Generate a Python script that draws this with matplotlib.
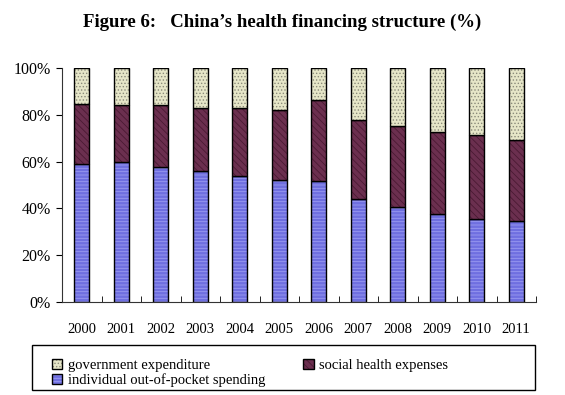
import matplotlib
matplotlib.use('Agg')
import matplotlib.pyplot as plt
from matplotlib.patches import Rectangle
import numpy as np

plt.rcParams["font.family"] = "Liberation Serif"
plt.rcParams["hatch.linewidth"] = 0.6

years = ['2000', '2001', '2002', '2003', '2004', '2005',
         '2006', '2007', '2008', '2009', '2010', '2011']
# 个人卫生支出、社会卫生支出、政府卫生支出 (%)
individual = [58.98, 59.97, 57.72, 55.87, 53.64, 52.21,
              51.8, 44.05, 40.42, 37.46, 35.29, 34.77]
social = [25.55, 24.10, 26.59, 27.16, 29.32, 29.87,
          34.5, 33.64, 34.85, 35.08, 36.02, 34.57]
government = [15.47, 15.93, 15.69, 16.97, 17.04, 17.92,
              13.7, 22.31, 24.73, 27.46, 28.69, 30.66]
y_ticks = [0, 20, 40, 60, 80, 100]

fig = plt.figure(figsize=(5.65, 3.95), dpi=100)
ax = fig.add_axes([62 / 565, 1 - 302 / 395, 474 / 565, 234 / 395])

x = np.arange(len(years))
w = 0.38
ind = np.array(individual)
soc = np.array(social)
gov = np.array(government)

b1 = ax.bar(x, ind, w, color='#6f6fe0', edgecolor='black', linewidth=1.0,
            hatch='-----', label='individual out-of-pocket spending')
b2 = ax.bar(x, soc, w, bottom=ind, color='#6b2f4f', edgecolor='black',
            linewidth=1.0, hatch='\\\\\\\\\\', label='social health expenses')
b3 = ax.bar(x, gov, w, bottom=ind + soc, color='#e6e6c8', edgecolor='black',
            linewidth=1.0, hatch='.....', label='government expenditure')
# 阴影线颜色
for bar in b1:
    bar._hatch_color = matplotlib.colors.to_rgba('#9a9af0')
for bar in b2:
    bar._hatch_color = matplotlib.colors.to_rgba('#4a1a33')
for bar in b3:
    bar._hatch_color = matplotlib.colors.to_rgba('#8a8a7a')

ax.set_xlim(-0.5, len(years) - 0.5)
ax.set_ylim(0, 100)
ax.set_yticks(y_ticks)
ax.set_yticklabels([f"{t}%" for t in y_ticks], fontsize=11.5)
ax.set_xticks(x)
ax.set_xticklabels(years, fontsize=10.5)
ax.set_xticks(np.arange(len(years) + 1) - 0.5, minor=True)
ax.tick_params(axis='x', which='major', length=0, pad=15)
ax.tick_params(axis='x', which='minor', length=4, direction='in')
ax.tick_params(axis='y', which='major', length=4, direction='out', pad=4)

for s in ['top', 'right']:
    ax.spines[s].set_visible(False)
ax.spines['left'].set_color('#333333')
ax.spines['bottom'].set_color('#333333')

fig.text(0.5, 1 - 22 / 395, "Figure 6:   China\u2019s health financing structure (%)",
         ha='center', va='center', fontsize=13.5, fontweight='bold')

# 图例外框
fig.add_artist(Rectangle((32 / 565, 1 - 390 / 395), 503 / 565, 45 / 395,
                         transform=fig.transFigure, fill=False,
                         edgecolor='black', linewidth=1.0))

leg = fig.legend(handles=[b3, b1, b2], ncol=2, loc='upper left',
                 bbox_to_anchor=(52 / 565, 1 - 359 / 395),
                 fontsize=10.5, frameon=False,
                 handlelength=0.7, handleheight=0.7,
                 handletextpad=0.4, borderpad=0, labelspacing=0.1,
                 columnspacing=2.6, borderaxespad=0)

fig.savefig("out.png", dpi=100)
